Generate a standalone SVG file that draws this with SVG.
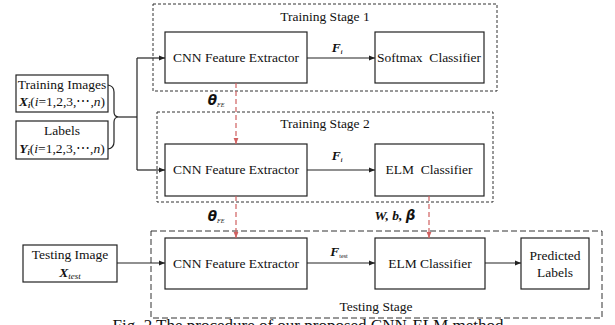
<svg xmlns="http://www.w3.org/2000/svg" width="615" height="325" viewBox="0 0 615 325">
<defs>
<marker id="ah" viewBox="0 0 10 10" refX="10" refY="5" markerWidth="6" markerHeight="6" markerUnits="userSpaceOnUse" orient="auto"><path d="M0,1 L10,5 L0,9 z" fill="#222"/></marker>
<marker id="ahr" viewBox="0 0 10 10" refX="10" refY="5" markerWidth="6" markerHeight="6" markerUnits="userSpaceOnUse" orient="auto"><path d="M0,1 L10,5 L0,9 z" fill="#d06060"/></marker>
</defs>
<style>
.bx{fill:#fff;stroke:#222;stroke-width:1.2}
.st{fill:none;stroke:#333;stroke-width:1;stroke-dasharray:3 2}
.st3{fill:none;stroke:#333;stroke-width:1;stroke-dasharray:6 3}
.ln{fill:none;stroke:#222;stroke-width:1.2}
.rd{fill:none;stroke:#d06060;stroke-width:1.2;stroke-dasharray:5 3}
text{font-family:"Liberation Serif","Times New Roman",serif;font-size:13.5px;fill:#111;text-anchor:middle}
.m{font-weight:bold;font-style:italic}
.cap{font-size:17px}
</style>
<rect x="0" y="0" width="615" height="325" fill="#fff"/>
<g id="stage1"><rect class="st" x="153" y="4" width="344" height="87"/><text x="325" y="21">Training Stage 1</text></g>
<g id="stage2"><rect class="st" x="157" y="112" width="336" height="90"/><text x="325" y="128">Training Stage 2</text></g>
<g id="stage3"><rect class="st3" x="151" y="231" width="451" height="87"/><text x="376" y="311">Testing Stage</text></g>
<g id="train-images"><rect class="bx" x="16" y="75" width="92" height="37"/><text x="62" y="89">Training Images</text><text x="62" y="106"><tspan class="m">X</tspan><tspan class="m" font-size="8" dy="2">i</tspan><tspan dy="-2">(</tspan><tspan font-style="italic">i</tspan>=1,2,3,⋯,<tspan font-style="italic">n</tspan>)</text></g>
<g id="labels"><rect class="bx" x="16" y="121" width="92" height="38"/><text x="62" y="135">Labels</text><text x="62" y="153"><tspan class="m">Y</tspan><tspan class="m" font-size="8" dy="2">i</tspan><tspan dy="-2">(</tspan><tspan font-style="italic">i</tspan>=1,2,3,⋯,<tspan font-style="italic">n</tspan>)</text></g>
<g id="cnn1"><rect class="bx" x="165" y="32" width="142" height="51"/><text x="236" y="62">CNN Feature Extractor</text></g>
<g id="softmax"><rect class="bx" x="375" y="32" width="109" height="51"/><text x="429" y="62" xml:space="preserve">Softmax  Classifier</text></g>
<g id="cnn2"><rect class="bx" x="165" y="144" width="142" height="52"/><text x="236" y="174">CNN Feature Extractor</text></g>
<g id="elm2"><rect class="bx" x="375" y="144" width="109" height="52"/><text x="429" y="174" xml:space="preserve">ELM  Classifier</text></g>
<g id="test-image"><rect class="bx" x="23" y="245" width="94" height="37"/><text x="70" y="259">Testing Image</text><text x="70" y="277"><tspan class="m">X</tspan><tspan font-style="italic" font-size="9" dy="2">test</tspan></text></g>
<g id="cnn3"><rect class="bx" x="165" y="238" width="142" height="51"/><text x="236" y="268">CNN Feature Extractor</text></g>
<g id="elm3"><rect class="bx" x="375" y="238" width="110" height="51"/><text x="430" y="268">ELM Classifier</text></g>
<g id="predicted"><rect class="bx" x="521" y="238" width="68" height="51"/><text x="555" y="260">Predicted</text><text x="555" y="277">Labels</text></g>
<g id="connectors">
<path class="ln" d="M108,85 Q114,86 114,92 L114,112 Q114,117 119,117 Q114,117 114,122 L114,142 Q114,148 108,149"/>
<path class="ln" d="M119,117 H137"/>
<path class="ln" d="M137,58 V170"/>
<path class="ln" d="M137,58 H165" marker-end="url(#ah)"/>
<path class="ln" d="M137,170 H165" marker-end="url(#ah)"/>
<path class="ln" d="M307,58 H375" marker-end="url(#ah)"/>
<path class="ln" d="M307,170 H375" marker-end="url(#ah)"/>
<path class="ln" d="M117,263 H165" marker-end="url(#ah)"/>
<path class="ln" d="M307,263 H375" marker-end="url(#ah)"/>
<path class="ln" d="M485,263 H521" marker-end="url(#ah)"/>
<path class="rd" d="M236,83 V144" marker-end="url(#ahr)"/>
<path class="rd" d="M236,196 V238" marker-end="url(#ahr)"/>
<path class="rd" d="M429,196 V238" marker-end="url(#ahr)"/>
<text x="337" y="52" class="m" font-size="10">F<tspan font-size="6" dy="2">i</tspan></text>
<text x="337" y="160" class="m" font-size="10">F<tspan font-size="6" dy="2">i</tspan></text>
<text x="339" y="256" font-size="10"><tspan class="m">F</tspan><tspan font-size="6" dy="2">test</tspan></text>
<text x="216" y="105" font-size="12"><tspan class="m" font-family="'DejaVu Sans',sans-serif">θ</tspan><tspan font-size="6" font-style="italic" dy="2">FE</tspan></text>
<text x="216" y="221" font-size="12"><tspan class="m" font-family="'DejaVu Sans',sans-serif">θ</tspan><tspan font-size="6" font-style="italic" dy="2">FE</tspan></text>
<text x="395" y="220" class="m" font-size="13">W, b, <tspan font-family="'DejaVu Sans',sans-serif">β</tspan></text>
</g>
<text class="cap" x="308" y="331">Fig. 2 The procedure of our proposed CNN-ELM method</text>
</svg>
